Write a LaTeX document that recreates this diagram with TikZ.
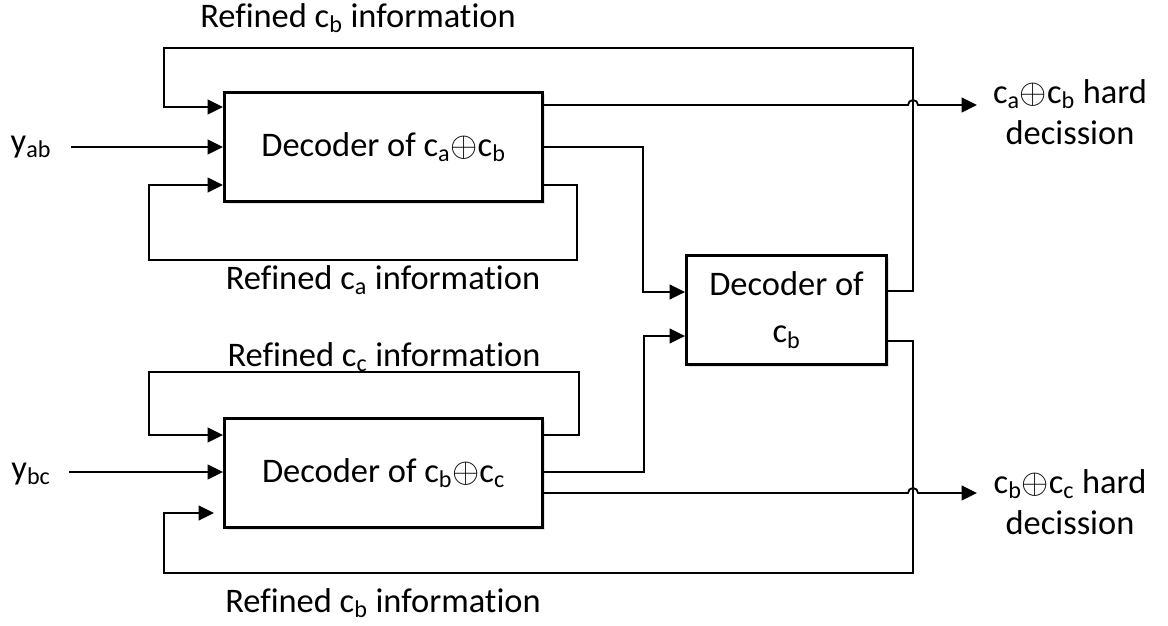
\documentclass[tikz,border=0pt]{standalone}
\usepackage{fontspec}
\setmainfont{Carlito}[Ligatures={NoCommon}]
\usetikzlibrary{arrows.meta,shadows}
\begin{document}
\begin{tikzpicture}[x=0.025cm,y=-0.025cm,
  lbl/.style={font=\fontsize{24.5pt}{29.5pt}\selectfont, inner sep=0pt},
  dec/.style={draw, line width=2pt, fill=white, inner sep=0pt, align=center,
    font=\fontsize{24.5pt}{29.5pt}\selectfont,
    drop shadow={shadow xshift=1.5pt, shadow yshift=-1.5pt, fill=blue!25!gray!35, opacity=0.5}},
  conn/.style={line width=1.3pt},
  arr/.style={conn, -{Triangle[length=11pt,width=10.5pt]}},
]
\useasboundingbox (0,0) rectangle (1168,625);

% decoders
\node[dec, minimum width=7.95cm, minimum height=2.72cm] (dec1) at (383.5,147)
  {Decoder of c\textsubscript{a}$\oplus$c\textsubscript{b}};
\node[dec, minimum width=7.95cm, minimum height=2.72cm] (dec2) at (383.5,473)
  {Decoder of c\textsubscript{b}$\oplus$c\textsubscript{c}};
\node[dec, minimum width=5cm, minimum height=2.72cm] (dec3) at (786.5,310)
  {Decoder of\\[4pt]c\textsubscript{b}};

% labels
\node[lbl] (yab) at (31,147) {y\textsubscript{ab}};
\node[lbl] (ybc) at (31,474) {y\textsubscript{bc}};
\node[lbl] (ref1) at (358,18) {Refined c\textsubscript{b} information};
\node[lbl] (ref2) at (383,280) {Refined c\textsubscript{a} information};
\node[lbl] (ref3) at (384,357) {Refined c\textsubscript{c} information};
\node[lbl] (ref4) at (383,603) {Refined c\textsubscript{b} information};
\node[lbl, align=center] (hd1) at (1070,112) {c\textsubscript{a}$\oplus$c\textsubscript{b} hard\\decission};
\node[lbl, align=center] (hd2) at (1070,502) {c\textsubscript{b}$\oplus$c\textsubscript{c} hard\\decission};

% free ends
\coordinate (inab) at (71,147);
\coordinate (inbc) at (69,472);
\coordinate (out1) at (977,105);
\coordinate (out2) at (977,493);
\coordinate (fbend) at (214,513);

% connectors
\draw[arr] (inab) -- (dec1.west |- inab);
\draw[arr] (inbc) -- (dec2.west |- inbc);
\draw[arr] (dec3.east |- 0,291) -- (913,291) -- (913,48) -- (164,48) -- (164,107) -- (dec1.west |- 0,107);
\draw[arr] (dec1.east |- 0,185) -- (577,185) -- (577,260) -- (149,260) -- (149,185) -- (dec1.west |- 0,185);
\draw[arr] (dec1.east |- 0,105) -- (908,105) arc[start angle=180,end angle=0,radius=3.56pt] -- (out1);
\draw[arr] (dec1.east |- 0,147) -- (643,147) -- (643,292) -- (dec3.west |- 0,292);
\draw[arr] (dec2.east |- 0,435) -- (579,435) -- (579,372) -- (149,372) -- (149,435) -- (dec2.west |- 0,435);
\draw[arr] (dec2.east |- 0,472) -- (644,472) -- (644,336) -- (dec3.west |- 0,336);
\draw[arr] (dec2.east |- 0,493) -- (908,493) arc[start angle=180,end angle=0,radius=3.56pt] -- (out2);
\draw[arr] (dec3.east |- 0,341) -- (913,341) -- (913,573) -- (164,573) -- (164,513) -- (fbend);
\end{tikzpicture}
\end{document}
